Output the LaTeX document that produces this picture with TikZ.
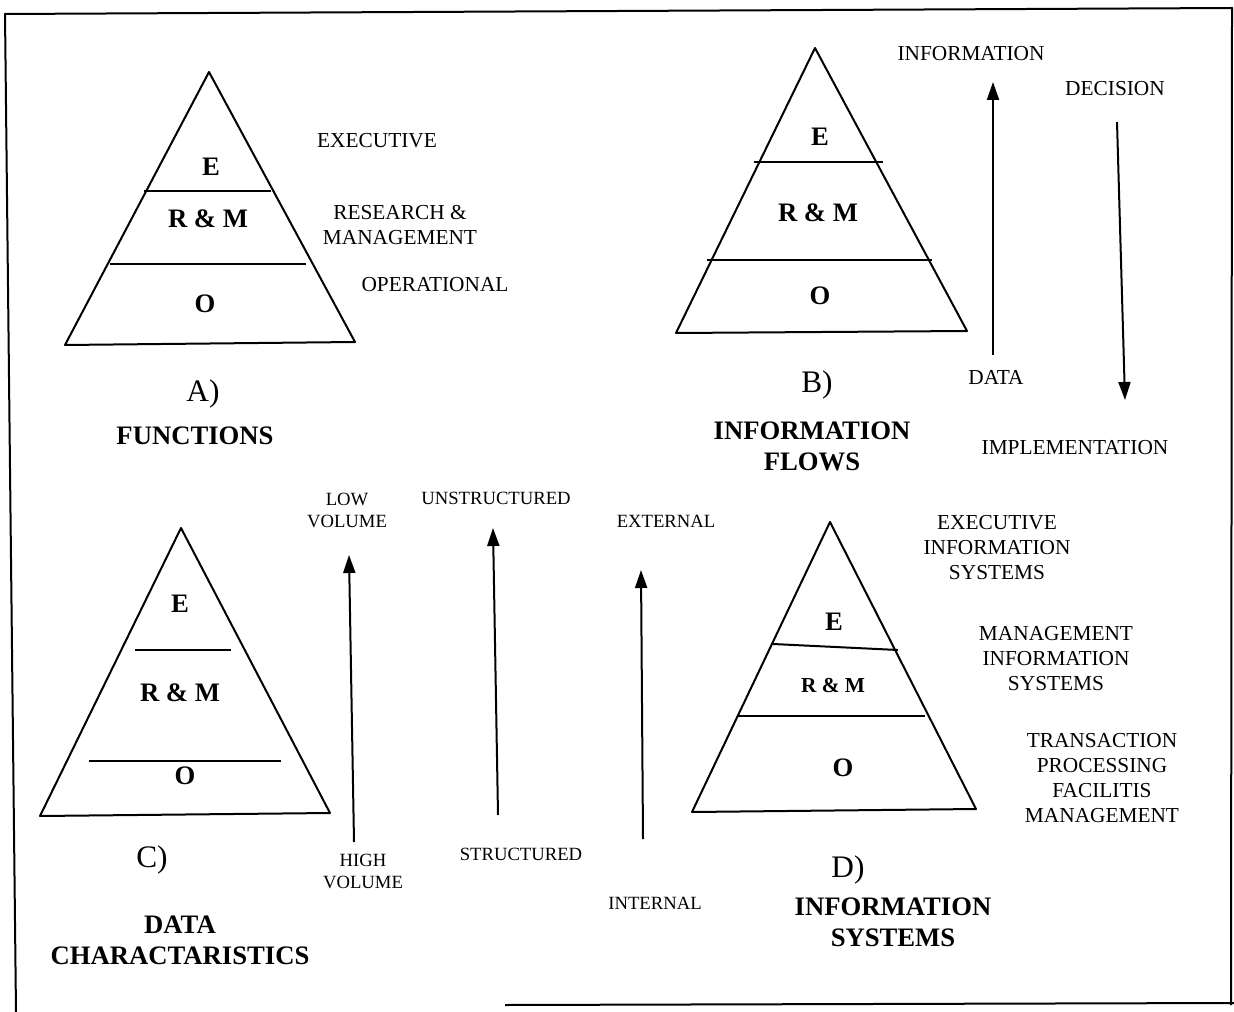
\documentclass[tikz,border=0pt]{standalone}
\usepackage{fontspec}
\setmainfont{Liberation Serif}
\usetikzlibrary{arrows.meta}
\tikzset{
  txt/.style={inner sep=0.75pt, align=center, font=\fontsize{16}{18.75}\selectfont},
  smalltxt/.style={inner sep=0.75pt, align=center, font=\fontsize{14}{16.5}\selectfont},
  ttl/.style={inner sep=0.75pt, align=center, font=\fontsize{20}{23.25}\selectfont\bfseries},
  layer/.style={inner sep=0.75pt, font=\fontsize{20}{22}\selectfont\bfseries},
  layersm/.style={inner sep=0.75pt, font=\fontsize{16}{18}\selectfont\bfseries},
  tag/.style={inner sep=0.75pt, font=\fontsize{23.5}{26}\selectfont},
  edge/.style={line width=1.5, line join=round},
  flow/.style={line width=1.5, -{Triangle[length=13.5pt,width=9pt]}},
}
\begin{document}
\begin{tikzpicture}[x=0.75pt,y=0.75pt,yscale=-1,xscale=1]
\useasboundingbox (0,0) rectangle (1234,1012);
%Frame
\draw [edge] (16,1012) -- (5,14) -- (1232,8) -- (1231,1005) ;
\draw [edge] (505,1005) -- (1234,1003) ;

%Shape: Triangle (A)
\draw [edge] (209,72) -- (355,342) -- (65,345) -- cycle ;
%Straight Lines
\draw [edge] (144,191) -- (271,191) ;
\draw [edge] (110,264) -- (306,264) ;
%Shape: Triangle (B)
\draw [edge] (815,48) -- (967,331) -- (676,333) -- cycle ;
%Straight Lines
\draw [edge] (754,162) -- (883,162) ;
\draw [edge] (707,260) -- (932,260) ;
%Shape: Triangle (C)
\draw [edge] (181,528) -- (330,813) -- (40,816) -- cycle ;
%Straight Lines
\draw [edge] (135,650) -- (231,650) ;
\draw [edge] (89,761) -- (281,761) ;
%Shape: Triangle (D)
\draw [edge] (830,522) -- (976,809) -- (692,812) -- cycle ;
%Straight Lines
\draw [edge] (773,644) -- (898,650) ;
\draw [edge] (738,716) -- (925,716) ;

%Arrow ends
\coordinate (dataTail) at (993,355);
\coordinate (infoTip) at (993,82);
\coordinate (decTail) at (1117,122);
\coordinate (implTip) at (1125,400);
\coordinate (highTail) at (354,842);
\coordinate (lowTip) at (349,555);
\coordinate (strTail) at (498,815);
\coordinate (unstrTip) at (493,528);
\coordinate (intTail) at (643,839);
\coordinate (extTip) at (641,570);
%Straight Lines
\draw [flow] (dataTail) -- (infoTip) ;
\draw [flow] (decTail) -- (implTip) ;
\draw [flow] (highTail) -- (lowTip) ;
\draw [flow] (strTail) -- (unstrTip) ;
\draw [flow] (intTail) -- (extTip) ;

% Text Node
\node [layer] (aE) at (211,167) {E};
\node [layer] (aRM) at (208,219) {R \& M};
\node [layer] (aO) at (205,304) {O};
\node [txt] (aExec) at (377,141) {EXECUTIVE};
\node [txt] (aRes) at (400,225) {RESEARCH \&\\MANAGEMENT};
\node [txt] (aOper) at (435,285) {OPERATIONAL};
\node [tag] (aTag) at (203,394) {A)};
\node [ttl] (aTitle) at (195,436) {FUNCTIONS};

% Text Node
\node [layer] (bE) at (820,137) {E};
\node [layer] (bRM) at (818,213) {R \& M};
\node [layer] (bO) at (820,296) {O};
\node [txt] (bInfo) at (971,54) {INFORMATION};
\node [txt] (bDec) at (1115,89) {DECISION};
\node [txt] (bData) at (996,377) {DATA};
\node [txt] (bImpl) at (1075,448) {IMPLEMENTATION};
\node [tag] (bTag) at (817,385) {B)};
\node [ttl] (bTitle) at (812,446) {INFORMATION\\FLOWS};

% Text Node
\node [layer] (cE) at (180,604) {E};
\node [layer] (cRM) at (180,693) {R \& M};
\node [layer] (cO) at (185,776) {O};
\node [smalltxt] (cLow) at (347,510) {LOW\\VOLUME};
\node [smalltxt] (cHigh) at (363,871) {HIGH\\VOLUME};
\node [smalltxt] (cUnstr) at (496,498) {UNSTRUCTURED};
\node [smalltxt] (cStr) at (521,854) {STRUCTURED};
\node [smalltxt] (cExt) at (666,521) {EXTERNAL};
\node [smalltxt] (cInt) at (655,903) {INTERNAL};
\node [tag] (cTag) at (152,860) {C)};
\node [ttl] (cTitle) at (180,940) {DATA\\CHARACTARISTICS};

% Text Node
\node [layer] (dE) at (834,622) {E};
\node [layersm] (dRM) at (833,686) {R \& M};
\node [layer] (dO) at (843,768) {O};
\node [txt] (dEis) at (997,548) {EXECUTIVE\\INFORMATION\\SYSTEMS};
\node [txt] (dMis) at (1056,659) {MANAGEMENT\\INFORMATION\\SYSTEMS};
\node [txt] (dTps) at (1102,778) {TRANSACTION\\PROCESSING\\FACILITIS\\MANAGEMENT};
\node [tag] (dTag) at (848,870) {D)};
\node [ttl] (dTitle) at (893,922) {INFORMATION\\SYSTEMS};
\end{tikzpicture}
\end{document}
